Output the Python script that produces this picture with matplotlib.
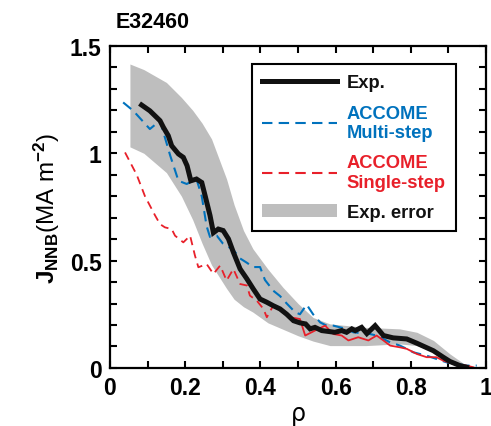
import numpy as np
import matplotlib
matplotlib.use("Agg")
import matplotlib.pyplot as plt
from matplotlib.patches import Patch
from matplotlib.lines import Line2D

plt.rcParams['font.family'] = ['Liberation Sans', 'DejaVu Sans']
plt.rcParams['font.weight'] = 'bold'
plt.rcParams['mathtext.fontset'] = 'custom'
plt.rcParams['mathtext.rm'] = 'Liberation Sans:bold'
plt.rcParams['mathtext.bf'] = 'Liberation Sans:bold'
plt.rcParams['mathtext.it'] = 'Liberation Sans:bold'

# experimental profile
rho_exp = [0.084, 0.106, 0.133, 0.142, 0.155, 0.164, 0.182, 0.195, 0.205, 0.215,
           0.230, 0.244, 0.253, 0.266, 0.275, 0.288, 0.301, 0.315, 0.328, 0.337,
           0.346, 0.364, 0.381, 0.399, 0.417, 0.434, 0.452, 0.470, 0.488, 0.505,
           0.520, 0.532, 0.545, 0.563, 0.598, 0.616, 0.629, 0.643, 0.652, 0.669,
           0.683, 0.705, 0.727, 0.753, 0.789, 0.816, 0.860, 0.886, 0.904, 0.930, 0.948]
j_exp = [1.225, 1.198, 1.152, 1.121, 1.082, 1.035, 0.997, 0.981, 0.942, 0.872,
         0.880, 0.864, 0.802, 0.710, 0.630, 0.647, 0.640, 0.601, 0.539, 0.500,
         0.461, 0.415, 0.368, 0.321, 0.306, 0.290, 0.275, 0.250, 0.220, 0.210,
         0.205, 0.182, 0.189, 0.174, 0.166, 0.174, 0.166, 0.182, 0.174, 0.189,
         0.160, 0.197, 0.151, 0.140, 0.135, 0.115, 0.080, 0.050, 0.030, 0.011, 0.003]

# ACCOME multi-step
rho_multi = [0.035, 0.062, 0.106, 0.133, 0.160, 0.182, 0.204, 0.230, 0.244, 0.257,
             0.266, 0.284, 0.300, 0.328, 0.346, 0.364, 0.380, 0.399, 0.412, 0.434,
             0.452, 0.470, 0.492, 0.505, 0.523, 0.540, 0.559, 0.576, 0.594, 0.612,
             0.629, 0.647, 0.691, 0.709, 0.727, 0.745, 0.771, 0.789, 0.806, 0.842,
             0.868, 0.895, 0.922, 0.948, 0.975]
j_multi = [1.237, 1.198, 1.113, 1.152, 0.990, 0.872, 0.857, 0.880, 0.800, 0.660,
           0.610, 0.616, 0.580, 0.550, 0.510, 0.490, 0.470, 0.470, 0.410, 0.360,
           0.335, 0.300, 0.260, 0.250, 0.295, 0.250, 0.212, 0.197, 0.197, 0.189,
           0.182, 0.166, 0.158, 0.151, 0.135, 0.119, 0.104, 0.089, 0.073, 0.057,
           0.042, 0.026, 0.019, 0.011, 0.011]

# ACCOME single-step
rho_single = [0.040, 0.071, 0.093, 0.120, 0.133, 0.146, 0.164, 0.173, 0.195, 0.213,
              0.226, 0.235, 0.257, 0.275, 0.293, 0.310, 0.328, 0.346, 0.364, 0.372,
              0.390, 0.408, 0.417, 0.434, 0.452, 0.479, 0.505, 0.519, 0.545, 0.572,
              0.594, 0.616, 0.634, 0.660, 0.687, 0.709, 0.727, 0.745, 0.771, 0.789,
              0.816, 0.842, 0.868, 0.886, 0.913, 0.948, 0.966]
j_single = [1.004, 0.900, 0.800, 0.710, 0.670, 0.655, 0.647, 0.616, 0.585, 0.616,
            0.523, 0.469, 0.484, 0.438, 0.477, 0.407, 0.461, 0.391, 0.384, 0.337,
            0.314, 0.275, 0.236, 0.290, 0.270, 0.236, 0.228, 0.151, 0.174, 0.197,
            0.158, 0.151, 0.128, 0.143, 0.128, 0.151, 0.128, 0.104, 0.096, 0.089,
            0.065, 0.050, 0.050, 0.034, 0.019, 0.011, 0.003]

# experimental error band
rho_band = [0.053, 0.09, 0.15, 0.19, 0.22, 0.245, 0.27, 0.31, 0.33, 0.355, 0.38,
            0.42, 0.46, 0.50, 0.54, 0.585, 0.68, 0.77, 0.816, 0.86, 0.904, 0.948, 0.97]
band_hi = [1.416, 1.39, 1.33, 1.26, 1.20, 1.14, 1.067, 0.88, 0.76, 0.64, 0.555,
           0.46, 0.375, 0.30, 0.235, 0.205, 0.189, 0.182, 0.166, 0.128, 0.065, 0.011, 0.0]
band_lo = [1.03, 1.00, 0.91, 0.80, 0.69, 0.58, 0.48, 0.37, 0.32, 0.285, 0.26,
           0.21, 0.18, 0.15, 0.125, 0.104, 0.104, 0.112, 0.104, 0.075, 0.035, 0.005, 0.0]

blue = '#0072BD'
red = '#E8202A'
grey = '#BEBEBE'
black = '#111111'

fig = plt.figure(figsize=(4.91, 4.27), dpi=100)
ax = fig.add_axes([0.224, 0.136, 0.766, 0.754])

ax.fill_between(rho_band, band_lo, band_hi, color=grey, lw=0)
ax.plot(rho_multi, j_multi, color=blue, lw=1.5, dashes=(5, 3))
# single-step curve: dashed in the core, drawn solid further out
n = sum(1 for r in rho_single if r < 0.45)
ax.plot(rho_single[:n + 1], j_single[:n + 1], color=red, lw=1.3, dashes=(4.5, 3))
ax.plot(rho_single[n:], j_single[n:], color=red, lw=1.3)
ax.plot(rho_exp, j_exp, color=black, lw=3.6, solid_joinstyle='miter')

ax.set_xlim(0, 1)
ax.set_ylim(0, 1.5)
ax.set_xticks([0, 0.2, 0.4, 0.6, 0.8, 1])
ax.set_xticklabels(['0', '0.2', '0.4', '0.6', '0.8', '1'])
ax.set_xticks(np.arange(0.1, 1.0, 0.2), minor=True)
ax.set_yticks([0, 0.5, 1, 1.5])
ax.set_yticklabels(['0', '0.5', '1', '1.5'])
ax.set_yticks([v for v in np.arange(0.1, 1.5, 0.1) if abs(v * 2 - round(v * 2)) > 1e-6], minor=True)
ax.tick_params(which='both', direction='in', top=True, right=True, length=5, width=1.5,
               labelsize=16.5, pad=6)
for s in ax.spines.values():
    s.set_linewidth(1.6)

ax.set_xlabel('ρ', fontsize=17, fontweight='normal', family='DejaVu Sans', labelpad=1)
ax.set_ylabel(r'$\mathbf{J}_{\mathbf{NNB}}$(MA m$^{\mathbf{-2}}$)', fontsize=17.5, labelpad=6)
fig.text(0.236, 0.948, 'E32460', fontsize=15.5, fontweight='bold', ha='left', va='center')

handles = [Line2D([], [], color=black, lw=3.6),
           Line2D([], [], color=blue, lw=1.5, dashes=(5, 3)),
           Line2D([], [], color=red, lw=1.5, dashes=(5, 3)),
           Patch(facecolor=grey, edgecolor='none')]
labels = ['Exp.', 'ACCOME\nMulti-step', 'ACCOME\nSingle-step', 'Exp. error']
leg = ax.legend(handles, labels, loc='upper right', bbox_to_anchor=(0.92, 0.943),
                fontsize=13.2, frameon=True, fancybox=False, framealpha=1,
                handlelength=4.1, handletextpad=0.55, labelspacing=0.72,
                borderpad=0.55, borderaxespad=0)
leg.get_frame().set_edgecolor('black')
leg.get_frame().set_linewidth(1.5)
cols = [black, blue, red, black]
for t, c in zip(leg.get_texts(), cols):
    t.set_color(c)
    t.set_fontweight('bold')

fig.savefig('out.png', dpi=100)
